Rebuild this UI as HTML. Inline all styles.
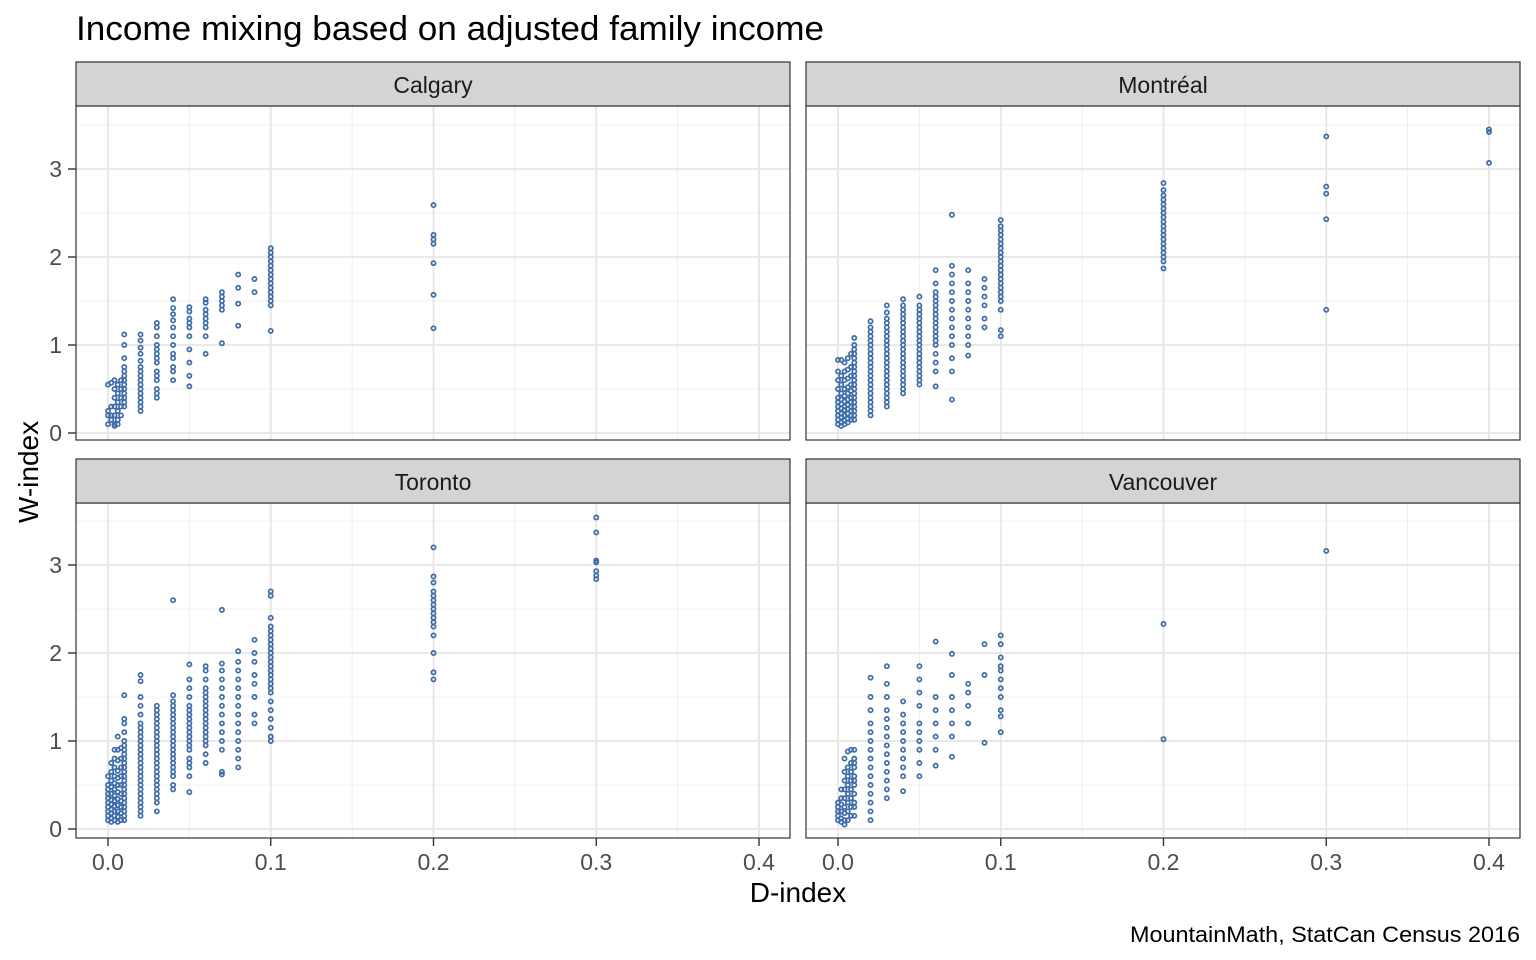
<!DOCTYPE html>
<html><head><meta charset="utf-8"><style>
html,body{margin:0;padding:0;background:#fff;}
svg{display:block;font-family:"Liberation Sans",Arial,sans-serif;}
</style></head><body>
<svg id="chart" width="1536" height="960" viewBox="0 0 1536 960">
<rect width="1536" height="960" fill="#fff"/>
<text x="76" y="40" font-size="34" fill="#000" textLength="748" lengthAdjust="spacingAndGlyphs">Income mixing based on adjusted family income</text>
<text x="798" y="902" font-size="28" text-anchor="middle" fill="#000">D-index</text>
<text transform="translate(38,472) rotate(-90)" font-size="28" text-anchor="middle" fill="#000">W-index</text>
<text x="1520" y="942" font-size="22" text-anchor="end" fill="#000" textLength="390" lengthAdjust="spacingAndGlyphs">MountainMath, StatCan Census 2016</text>
<g id="panels"></g>
</svg>
<script>
const xTicks = [0, 0.1, 0.2, 0.3, 0.4];
const xTickLabels = ["0.0", "0.1", "0.2", "0.3", "0.4"];
const yTicks = [0, 1, 2, 3];
const yTickLabels = ["0", "1", "2", "3"];
const cities = ["Calgary", "Montréal", "Toronto", "Vancouver"];

const calgaryX = [0, 0.002, 0.004, 0.006, 0.008, 0.01, 0.02, 0.03, 0.04, 0.05, 0.06, 0.07, 0.08, 0.09, 0.1, 0.2];
const calgaryY = [
 [0.55,0.2,0.25,0.1],
 [0.57,0.3,0.2,0.15],
 [0.6,0.5,0.4,0.3,0.2,0.1,0.08],
 [0.55,0.45,0.35,0.25,0.15,0.1],
 [0.6,0.5,0.4,0.3,0.2],
 [1.12,1.0,0.85,0.75,0.7,0.65,0.6,0.55,0.5,0.45,0.4,0.35,0.3],
 [1.12,1.05,0.97,0.9,0.82,0.75,0.7,0.65,0.6,0.55,0.5,0.45,0.4,0.35,0.3,0.25],
 [1.25,1.2,1.1,1.0,0.95,0.9,0.85,0.8,0.7,0.65,0.6,0.5,0.45,0.4],
 [1.52,1.42,1.35,1.28,1.2,1.1,1.0,0.9,0.85,0.75,0.7,0.6],
 [1.43,1.38,1.3,1.25,1.2,1.1,0.95,0.8,0.65,0.53],
 [1.52,1.48,1.4,1.35,1.3,1.25,1.2,1.1,0.9],
 [1.6,1.55,1.5,1.45,1.4,1.02],
 [1.8,1.65,1.47,1.22],
 [1.75,1.6],
 [2.1,2.05,2.0,1.95,1.9,1.85,1.8,1.75,1.7,1.65,1.6,1.55,1.5,1.45,1.16],
 [2.59,2.25,2.2,2.15,1.93,1.57,1.19]
];

const montrealX = [0, 0.002, 0.004, 0.006, 0.008, 0.01, 0.02, 0.03, 0.04, 0.05, 0.06, 0.07, 0.08, 0.09, 0.1, 0.2, 0.3, 0.4];
const montrealY = [
 [0.1,0.15,0.2,0.25,0.3,0.35,0.4,0.5,0.6,0.7,0.83],
 [0.08,0.12,0.18,0.22,0.28,0.33,0.38,0.45,0.55,0.65,0.83],
 [0.1,0.14,0.2,0.26,0.3,0.36,0.42,0.5,0.6,0.7,0.8],
 [0.12,0.16,0.22,0.27,0.32,0.38,0.45,0.52,0.62,0.72,0.85],
 [0.15,0.2,0.25,0.3,0.35,0.4,0.48,0.55,0.65,0.75,0.9],
 [0.15,0.2,0.25,0.3,0.35,0.4,0.45,0.5,0.55,0.6,0.65,0.7,0.75,0.8,0.85,0.9,0.95,1.0,1.08],
 [0.2,0.25,0.3,0.35,0.4,0.45,0.5,0.55,0.6,0.65,0.7,0.75,0.8,0.85,0.9,0.95,1.0,1.05,1.1,1.15,1.2,1.27],
 [0.3,0.35,0.4,0.45,0.5,0.55,0.6,0.65,0.7,0.75,0.8,0.85,0.9,0.95,1.0,1.05,1.1,1.15,1.2,1.25,1.3,1.37,1.45],
 [0.45,0.5,0.55,0.6,0.65,0.7,0.75,0.8,0.85,0.9,0.95,1.0,1.05,1.1,1.15,1.2,1.25,1.3,1.35,1.4,1.45,1.52],
 [0.55,0.6,0.65,0.7,0.75,0.8,0.85,0.9,0.95,1.0,1.05,1.1,1.15,1.2,1.25,1.3,1.35,1.4,1.45,1.55],
 [0.53,0.7,0.8,0.9,1.0,1.05,1.1,1.15,1.2,1.25,1.3,1.35,1.4,1.45,1.5,1.55,1.6,1.7,1.85],
 [0.38,0.7,0.85,1.0,1.1,1.2,1.3,1.4,1.5,1.6,1.7,1.8,1.9,2.48],
 [0.88,1.0,1.1,1.2,1.3,1.4,1.5,1.6,1.7,1.85],
 [1.2,1.3,1.45,1.55,1.65,1.75],
 [1.1,1.17,1.4,1.5,1.55,1.6,1.65,1.7,1.75,1.8,1.85,1.9,1.95,2.0,2.05,2.1,2.15,2.2,2.25,2.3,2.35,2.42],
 [1.87,1.95,2.0,2.05,2.1,2.15,2.2,2.25,2.3,2.35,2.4,2.45,2.5,2.55,2.6,2.65,2.7,2.76,2.84],
 [3.37,2.8,2.72,2.43,1.4],
 [3.45,3.42,3.07]
];

const torontoX = [0, 0.002, 0.004, 0.006, 0.008, 0.01, 0.02, 0.03, 0.04, 0.05, 0.06, 0.07, 0.08, 0.09, 0.1, 0.2, 0.3];
const torontoY = [
 [0.1,0.15,0.2,0.25,0.3,0.35,0.4,0.45,0.5,0.6],
 [0.08,0.12,0.18,0.22,0.28,0.33,0.4,0.48,0.55,0.65,0.75],
 [0.1,0.15,0.2,0.26,0.32,0.38,0.45,0.52,0.6,0.7,0.8,0.9],
 [0.08,0.14,0.2,0.27,0.34,0.42,0.5,0.58,0.66,0.78,0.9,1.05],
 [0.1,0.18,0.25,0.32,0.4,0.5,0.6,0.7,0.8,0.92],
 [0.1,0.15,0.2,0.25,0.3,0.35,0.4,0.45,0.5,0.55,0.6,0.65,0.7,0.75,0.8,0.85,0.9,0.95,1.0,1.1,1.2,1.25,1.52],
 [0.15,0.2,0.25,0.3,0.35,0.4,0.45,0.5,0.55,0.6,0.65,0.7,0.75,0.8,0.85,0.9,0.95,1.0,1.05,1.1,1.15,1.2,1.3,1.4,1.5,1.68,1.75],
 [0.2,0.3,0.35,0.4,0.45,0.5,0.55,0.6,0.65,0.7,0.75,0.8,0.85,0.9,0.95,1.0,1.05,1.1,1.15,1.2,1.25,1.3,1.35,1.4],
 [0.45,0.5,0.6,0.65,0.7,0.75,0.8,0.85,0.9,0.95,1.0,1.05,1.1,1.15,1.2,1.25,1.3,1.35,1.4,1.45,1.52,2.6],
 [0.42,0.6,0.7,0.75,0.8,0.9,0.95,1.0,1.05,1.1,1.15,1.2,1.25,1.3,1.35,1.4,1.5,1.6,1.7,1.87],
 [0.75,0.85,0.95,1.0,1.05,1.1,1.15,1.2,1.25,1.3,1.35,1.4,1.45,1.5,1.55,1.6,1.7,1.8,1.85],
 [0.62,0.65,0.9,1.0,1.1,1.2,1.3,1.4,1.5,1.6,1.7,1.8,1.88,2.49],
 [0.7,0.8,0.9,1.0,1.1,1.2,1.3,1.4,1.5,1.6,1.7,1.8,1.9,2.02],
 [1.2,1.3,1.5,1.65,1.75,1.9,2.0,2.15],
 [1.0,1.05,1.15,1.25,1.35,1.45,1.55,1.6,1.65,1.7,1.75,1.8,1.85,1.9,1.95,2.0,2.05,2.1,2.15,2.2,2.25,2.3,2.4,2.65,2.7],
 [1.7,1.78,2.0,2.2,2.3,2.35,2.4,2.45,2.5,2.55,2.6,2.65,2.7,2.8,2.87,3.2],
 [3.54,3.37,3.05,3.03,2.93,2.88,2.84]
];

const vancouverX = [0, 0.002, 0.004, 0.006, 0.008, 0.01, 0.02, 0.03, 0.04, 0.05, 0.06, 0.07, 0.08, 0.09, 0.1, 0.2, 0.3];
const vancouverY = [
 [0.1,0.15,0.2,0.25,0.3],
 [0.08,0.12,0.2,0.28,0.35,0.45],
 [0.05,0.1,0.18,0.25,0.35,0.45,0.55,0.65,0.8],
 [0.1,0.2,0.3,0.4,0.5,0.6,0.7,0.88],
 [0.15,0.25,0.35,0.45,0.55,0.65,0.75,0.9],
 [0.15,0.25,0.3,0.4,0.5,0.55,0.6,0.7,0.75,0.8,0.9],
 [0.1,0.2,0.3,0.4,0.5,0.6,0.7,0.8,0.9,1.0,1.1,1.2,1.35,1.5,1.72],
 [0.35,0.45,0.55,0.65,0.75,0.85,0.95,1.05,1.15,1.25,1.35,1.5,1.65,1.85],
 [0.43,0.6,0.7,0.8,0.9,1.0,1.1,1.2,1.3,1.45],
 [0.6,0.75,0.9,1.0,1.1,1.2,1.4,1.55,1.7,1.85],
 [0.72,0.9,1.05,1.2,1.35,1.5,2.13],
 [0.82,1.05,1.2,1.35,1.5,1.75,1.99],
 [1.2,1.4,1.55,1.65],
 [0.98,1.75,2.1],
 [1.1,1.28,1.35,1.5,1.6,1.7,1.8,1.85,1.95,2.1,2.2],
 [2.33,1.02],
 [3.16]
];

const panelXs = [calgaryX, montrealX, torontoX, vancouverX];
const panelYs = [calgaryY, montrealY, torontoY, vancouverY];

const NS = "http://www.w3.org/2000/svg";
const root = document.getElementById("panels");
const layouts = [
  {left:76, right:790, stripTop:62, top:106, bottom:440, x0:108, y0:433},
  {left:806, right:1520, stripTop:62, top:106, bottom:440, x0:838, y0:433},
  {left:76, right:790, stripTop:459, top:503, bottom:838, x0:108, y0:829},
  {left:806, right:1520, stripTop:459, top:503, bottom:838, x0:838, y0:829}
];
const xPer = 1627.5;
const yPer = 88;
function mk(tag, attrs, parent){const e=document.createElementNS(NS,tag);for(const k in attrs)e.setAttribute(k,attrs[k]);parent.appendChild(e);return e;}

layouts.forEach((L, i) => {
  const sx = v => L.x0 + v * xPer;
  const sy = v => L.y0 - v * yPer;
  const g = mk("g", {}, root);
  
  
  mk("rect", {x:L.left, y:L.top, width:L.right-L.left, height:L.bottom-L.top, fill:"#fff"}, g);
  [0.05,0.15,0.25,0.35].forEach(v => mk("line",{x1:sx(v),x2:sx(v),y1:L.top,y2:L.bottom,stroke:"#ebebeb","stroke-width":0.8},g));
  [0.5,1.5,2.5,3.5].forEach(v => mk("line",{x1:L.left,x2:L.right,y1:sy(v),y2:sy(v),stroke:"#ebebeb","stroke-width":0.8},g));
  xTicks.forEach(v => mk("line",{x1:sx(v),x2:sx(v),y1:L.top,y2:L.bottom,stroke:"#e6e6e6","stroke-width":1.8},g));
  yTicks.forEach(v => mk("line",{x1:L.left,x2:L.right,y1:sy(v),y2:sy(v),stroke:"#e6e6e6","stroke-width":1.8},g));
  const xs = panelXs[i], ys = panelYs[i];
  xs.forEach((xv, j) => {
    ys[j].forEach(yv => {
      const c = mk("circle",{cx:sx(xv),cy:sy(yv),r:2.1,fill:"none",stroke:"#3e6ca8","stroke-width":1.7},g);
      
      
    });
  });
  mk("rect",{x:L.left,y:L.top,width:L.right-L.left,height:L.bottom-L.top,fill:"none",stroke:"#333","stroke-width":1.2},g);
  const s = mk("rect",{x:L.left,y:L.stripTop,width:L.right-L.left,height:L.top-L.stripTop,fill:"#d4d4d4",stroke:"#333","stroke-width":1.2},g);
  
  
  const st = mk("text",{x:(L.left+L.right)/2,y:L.stripTop+31,"font-size":23,"text-anchor":"middle",fill:"#1a1a1a"},g);
  st.textContent = cities[i];
  
  
  if (i % 2 === 0) {
    yTicks.forEach((v, k) => {
      mk("line",{x1:L.left-8,x2:L.left,y1:sy(v),y2:sy(v),stroke:"#333","stroke-width":1.4},g);
      const t = mk("text",{x:L.left-14,y:sy(v)+8,"font-size":23,"text-anchor":"end",fill:"#4d4d4d"},g);
      t.textContent = yTickLabels[k];
      
      
    });
  }
  if (i >= 2) {
    xTicks.forEach((v, k) => {
      mk("line",{x1:sx(v),x2:sx(v),y1:L.bottom,y2:L.bottom+8,stroke:"#333","stroke-width":1.4},g);
      const t = mk("text",{x:sx(v),y:L.bottom+32,"font-size":23,"text-anchor":"middle",fill:"#4d4d4d"},g);
      t.textContent = xTickLabels[k];
      
      
    });
  }
});
</script>
</body></html>
